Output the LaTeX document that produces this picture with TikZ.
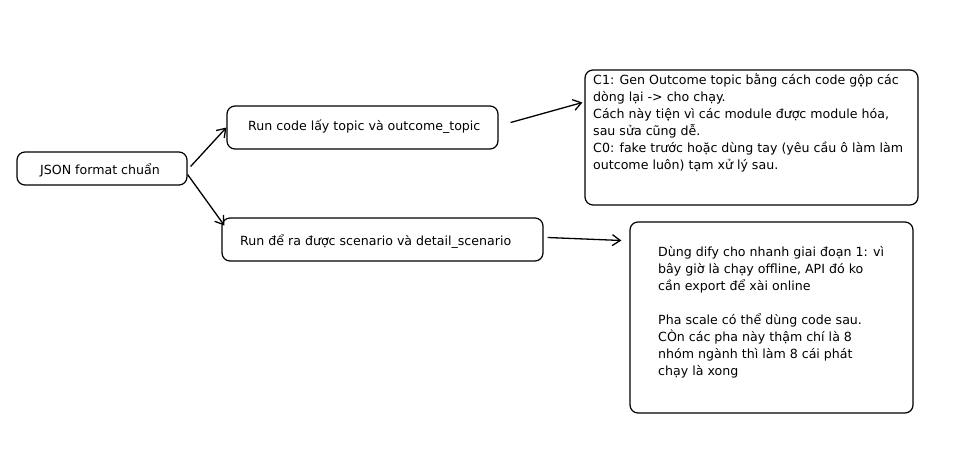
\documentclass[tikz,border=0pt]{standalone}
\usepackage{fontspec}
\setmainfont{DejaVu Sans}
\usetikzlibrary{arrows.meta}
\begin{document}
\begin{tikzpicture}[x=1pt,y=-1pt,
  box/.style={draw, rounded corners=8pt, line width=1.2pt, inner sep=0pt},
  txt/.style={font=\fontsize{12.6}{17}\selectfont, align=left, inner sep=0pt},
  conn/.style={-{Straight Barb[length=8pt,width=11pt]}, line width=1.3pt}]
\fill[white] (0,0) rectangle (980,472);
\path[use as bounding box] (0,0) rectangle (980,472);
% boxes
\node[box, minimum width=170pt, minimum height=33pt] (json) at (102,168.5) {};
\node[box, minimum width=271pt, minimum height=43pt] (topic) at (362.5,127.5) {};
\node[box, minimum width=321pt, minimum height=43pt] (scen) at (382.5,239.5) {};
\node[box, minimum width=333pt, minimum height=135pt] (c1) at (751.5,137.5) {};
\node[box, minimum width=283pt, minimum height=191pt] (dify) at (771.5,317.5) {};
% texts
\node[txt, anchor=center] (tjson) at (100,170) {JSON format chuẩn};
\node[txt, anchor=west] (ttopic) at (248,127) {Run code lấy topic và outcome\_topic};
\node[txt, anchor=west] (tscen) at (240,242) {Run để ra được scenario và detail\_scenario};
\node[txt, anchor=north west] (tc1) at (593,73) {C1: Gen Outcome topic bằng cách code gộp các\\dòng lại -> cho chạy.\\Cách này tiện vì các module được module hóa,\\sau sửa cũng dễ.\\C0: fake trước hoặc dùng tay (yêu cầu ô làm làm\\outcome luôn) tạm xử lý sau.};
\node[txt, anchor=north west] (tdify) at (658,246) {Dùng dify cho nhanh giai đoạn 1: vì\\bây giờ là chạy offline, API đó ko\\cần export để xài online\\[17pt]Pha scale có thể dùng code sau.\\CÒn các pha này thậm chí là 8\\nhóm ngành thì làm 8 cái phát\\chạy là xong};
% connectors
\draw[conn] (json.east) ++(3,-2) -- (topic.west);
\draw[conn] (json.east) ++(0,6) -- ([xshift=3pt,yshift=14pt]scen.west);
\draw[conn] ([xshift=12pt,yshift=5pt]topic.east) -- ([xshift=-2pt,yshift=35pt]c1.west);
\draw[conn] ([xshift=4pt,yshift=2pt]scen.east) -- ([xshift=-8pt,yshift=77pt]dify.west);
\end{tikzpicture}
\end{document}
